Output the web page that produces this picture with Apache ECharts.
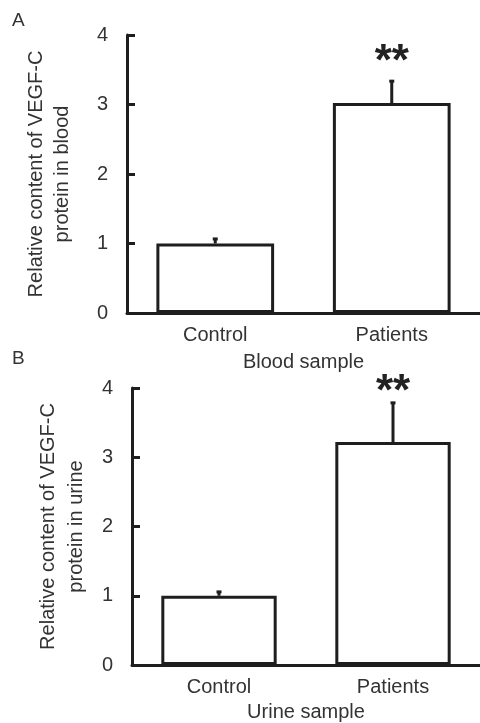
<!DOCTYPE html>
<html>
<head>
<meta charset="utf-8">
<script src="https://cdn.jsdelivr.net/npm/echarts@6/dist/echarts.min.js"></script>
<style>html,body{margin:0;padding:0;background:#fff}#c{width:480px;height:723px}</style>
</head>
<body>
<div id="c"></div>
<script>
const categories = ['Control', 'Patients'];
const bloodMean = [1.00, 3.02];
const bloodErr = [0.08, 0.33];
const bloodSig = ['', '**'];
const bloodSigY = [null, 3.64];
const urineMean = [1.00, 3.22];
const urineErr = [0.07, 0.58];
const urineSig = ['', '**'];
const urineSigY = [null, 3.97];
const yTicks = [0, 1, 2, 3, 4];

const FONT = '"Liberation Sans", Arial, sans-serif';
const TXT = '#333';
const LN = '#1e1e1e';

function errData(mean, err, sig, sigY) {
  return mean.map((m, i) => [i, m, m + err[i], sigY[i] == null ? 0 : sigY[i], sig[i]]);
}

function renderErr(params, api) {
  const base = api.coord([api.value(0), api.value(1)]);
  const top = api.coord([api.value(0), api.value(2)]);
  const children = [
    { type: 'line', shape: { x1: base[0], y1: base[1], x2: top[0], y2: top[1] + 1 },
      style: { stroke: LN, lineWidth: 3 } },
    { type: 'line', shape: { x1: top[0] - 2.5, y1: top[1] + 1, x2: top[0] + 2.5, y2: top[1] + 1 },
      style: { stroke: LN, lineWidth: 3 } }
  ];
  const s = api.value(4);
  if (s) {
    const sp = api.coord([api.value(0), api.value(3)]);
    children.push({ type: 'text', x: sp[0], y: sp[1] + 3,
      style: { text: s, fill: '#222', font: 'bold 44px ' + FONT, align: 'center', verticalAlign: 'middle' } });
  }
  return { type: 'group', children };
}

function xAxisCfg(grid, name, gap) {
  return {
    type: 'category', gridIndex: grid, data: categories,
    name: name, nameLocation: 'middle', nameGap: gap,
    nameTextStyle: { color: TXT, fontSize: 20, fontFamily: FONT },
    axisLine: { lineStyle: { color: LN, width: 3 } },
    axisTick: { show: false },
    axisLabel: { color: TXT, fontSize: 20, fontFamily: FONT, margin: 12 }
  };
}
function yAxisCfg(grid, name, gap, lh) {
  return {
    type: 'value', gridIndex: grid, min: yTicks[0], max: yTicks[yTicks.length - 1], interval: 1,
    name: name, nameLocation: 'middle', nameGap: gap, nameRotate: 90,
    nameTextStyle: { color: TXT, fontSize: 20, fontFamily: FONT, lineHeight: lh, align: 'center' },
    axisLine: { show: true, lineStyle: { color: LN, width: 3 } },
    axisTick: { show: true, inside: true, length: 8, lineStyle: { color: LN, width: 3 } },
    splitLine: { show: false },
    axisLabel: { color: TXT, fontSize: 20, fontFamily: FONT, margin: 19 }
  };
}

const chart = echarts.init(document.getElementById('c'), null, { renderer: 'canvas' });
chart.setOption({
  animation: false,
  backgroundColor: '#fff',
  title: [
    { text: 'A', left: 7, top: 6, textStyle: { color: TXT, fontSize: 19, fontWeight: 'normal', fontFamily: FONT } },
    { text: 'B', left: 7, top: 344, textStyle: { color: TXT, fontSize: 19, fontWeight: 'normal', fontFamily: FONT } }
  ],
  grid: [
    { left: 127, top: 35, width: 354, height: 278 },
    { left: 132, top: 388, width: 355, height: 277 }
  ],
  xAxis: [xAxisCfg(0, 'Blood sample', 39), xAxisCfg(1, 'Urine sample', 37)],
  yAxis: [
    yAxisCfg(0, 'Relative content of VEGF-C\nprotein in blood', 52, 26),
    yAxisCfg(1, 'Relative content of VEGF-C\nprotein in urine', 40, 28)
  ],
  series: [
    { type: 'bar', xAxisIndex: 0, yAxisIndex: 0, data: bloodMean, barWidth: '66.7%',
      itemStyle: { color: '#fff', borderColor: LN, borderWidth: 3 } },
    { type: 'bar', xAxisIndex: 1, yAxisIndex: 1, data: urineMean, barWidth: '66.3%',
      itemStyle: { color: '#fff', borderColor: LN, borderWidth: 3 } },
    { type: 'custom', xAxisIndex: 0, yAxisIndex: 0, renderItem: renderErr,
      data: errData(bloodMean, bloodErr, bloodSig, bloodSigY), z: 3 },
    { type: 'custom', xAxisIndex: 1, yAxisIndex: 1, renderItem: renderErr,
      data: errData(urineMean, urineErr, urineSig, urineSigY), z: 3 }
  ]
});
</script>
</body>
</html>
